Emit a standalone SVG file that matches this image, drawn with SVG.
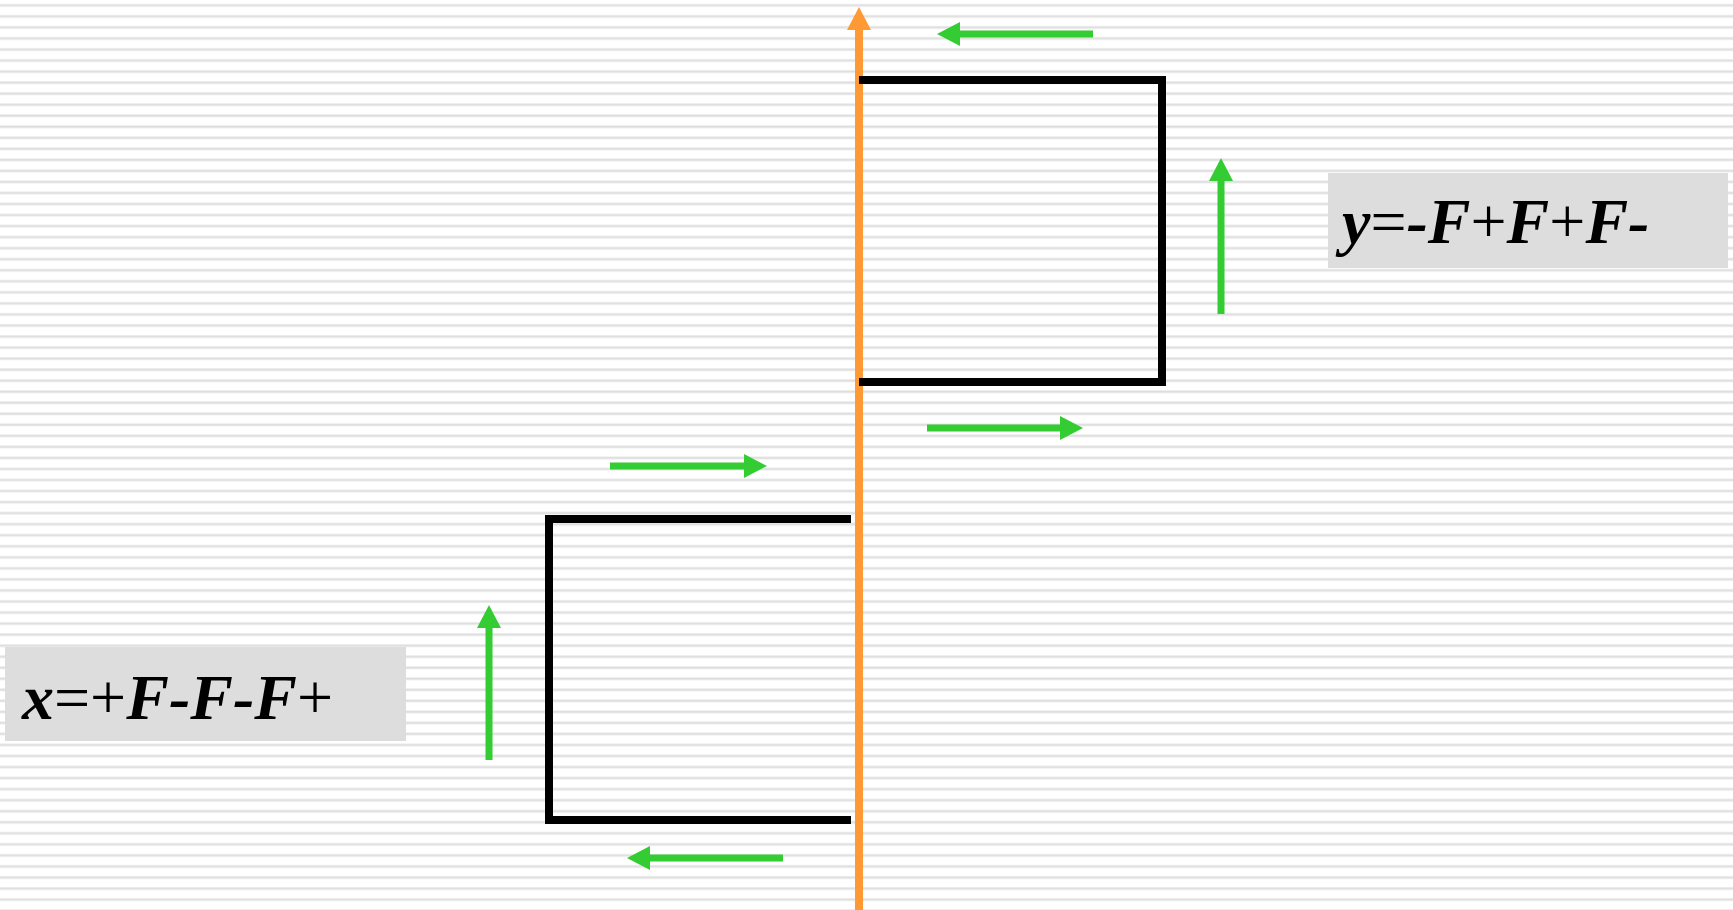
<svg xmlns="http://www.w3.org/2000/svg" width="1733" height="910" viewBox="0 0 1733 910">
  <defs>
    <pattern id="stripes" x="0" y="0" width="20" height="11.04" patternUnits="userSpaceOnUse">
      <rect x="0" y="0" width="20" height="11.04" fill="#ffffff"/>
      <rect x="0" y="3.8" width="20" height="3" fill="#ececec"/>
      <rect x="0" y="4.6" width="20" height="1.4" fill="#dedede"/>
    </pattern>
    <marker id="gh" markerUnits="userSpaceOnUse" markerWidth="24" markerHeight="24" refX="1" refY="12" orient="auto">
      <path d="M0,0 L23,12 L0,24 z" fill="#33cc33"/>
    </marker>
    <marker id="oh" markerUnits="userSpaceOnUse" markerWidth="24" markerHeight="24" refX="1" refY="12" orient="auto">
      <path d="M0,0 L23,12 L0,24 z" fill="#ff9933"/>
    </marker>
  </defs>
  <style>
    .g { stroke: #33cc33; stroke-width: 7; fill: none; marker-end: url(#gh); }
    .o { stroke: #ff9933; stroke-width: 8; fill: none; marker-end: url(#oh); }
    .blk { stroke: #000; stroke-width: 8; fill: none; stroke-linejoin: miter; }
    .box { fill: #dddddd; }
    .lbl { font-family: "Liberation Serif", "Times New Roman", serif; font-size: 64px; fill: #000; }
    .bi { font-weight: bold; font-style: italic; }
  </style>
  <rect x="0" y="0" width="1733" height="910" fill="url(#stripes)"/>

  <g id="connectors">
    <line class="o" x1="859" y1="910" x2="859" y2="29"/>
    <line class="g" x1="1093" y1="34" x2="959" y2="34"/>
    <line class="g" x1="1221" y1="314" x2="1221" y2="180"/>
    <line class="g" x1="927" y1="428" x2="1061" y2="428"/>
    <line class="g" x1="610" y1="466" x2="745" y2="466"/>
    <line class="g" x1="489" y1="760" x2="489" y2="627"/>
    <line class="g" x1="783" y1="858" x2="649" y2="858"/>
  </g>

  <g id="path-top">
    <path class="blk" d="M859,80 H1162 V382 H859"/>
  </g>
  <g id="path-bottom">
    <path class="blk" d="M851,519 H549 V820 H851"/>
  </g>

  <g id="label-y">
    <rect class="box" x="1328" y="173" width="400" height="95"/>
    <text class="lbl" x="1342" y="243"><tspan class="bi">y</tspan>=<tspan class="bi">-F</tspan>+<tspan class="bi">F</tspan>+<tspan class="bi">F-</tspan></text>
  </g>
  <g id="label-x">
    <rect class="box" x="5" y="647" width="401" height="94"/>
    <text class="lbl" x="22" y="719"><tspan class="bi">x</tspan>=+<tspan class="bi">F-F-F</tspan>+</text>
  </g>
</svg>
